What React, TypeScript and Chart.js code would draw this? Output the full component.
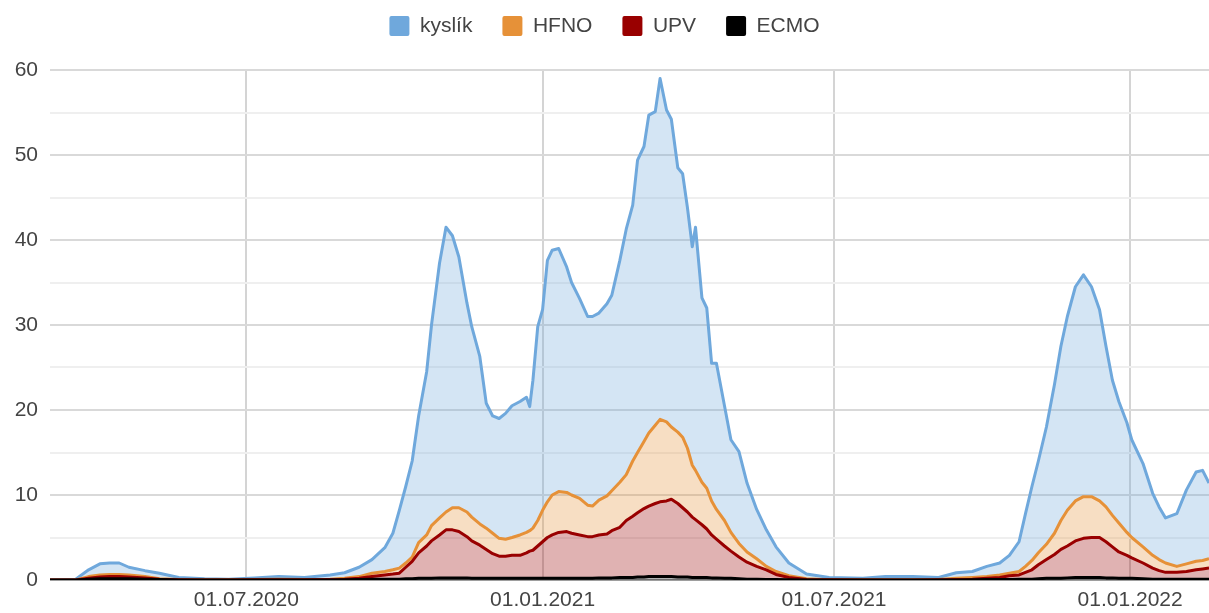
import React, { useEffect, useRef } from "react";
import { Chart, registerables } from "chart.js";

Chart.register(...registerables);

// ---- data ----
const dates = [
  "2020-03-01", "2020-03-17", "2020-03-25", "2020-04-01", "2020-04-07", "2020-04-13", "2020-04-19", "2020-04-29",
  "2020-05-08", "2020-05-20", "2020-06-05", "2020-06-20", "2020-07-06", "2020-07-21", "2020-08-06", "2020-08-22",
  "2020-08-31", "2020-09-09", "2020-09-17", "2020-09-25", "2020-09-30", "2020-10-04", "2020-10-08", "2020-10-12",
  "2020-10-16", "2020-10-21", "2020-10-24", "2020-10-29", "2020-11-02", "2020-11-06", "2020-11-10", "2020-11-15",
  "2020-11-18", "2020-11-23", "2020-11-27", "2020-12-01", "2020-12-05", "2020-12-09", "2020-12-13", "2020-12-18",
  "2020-12-22", "2020-12-24", "2020-12-26", "2020-12-29", "2021-01-01", "2021-01-04", "2021-01-07", "2021-01-11",
  "2021-01-16", "2021-01-19", "2021-01-24", "2021-01-29", "2021-02-01", "2021-02-05", "2021-02-10", "2021-02-13",
  "2021-02-18", "2021-02-22", "2021-02-26", "2021-03-01", "2021-03-05", "2021-03-08", "2021-03-12", "2021-03-15",
  "2021-03-19", "2021-03-22", "2021-03-26", "2021-03-29", "2021-04-01", "2021-04-04", "2021-04-06", "2021-04-10",
  "2021-04-13", "2021-04-16", "2021-04-19", "2021-04-24", "2021-04-28", "2021-05-03", "2021-05-08", "2021-05-14",
  "2021-05-20", "2021-05-26", "2021-06-03", "2021-06-14", "2021-06-28", "2021-07-19", "2021-08-02", "2021-08-19",
  "2021-09-04", "2021-09-15", "2021-09-25", "2021-10-04", "2021-10-12", "2021-10-18", "2021-10-24", "2021-10-28",
  "2021-11-01", "2021-11-05", "2021-11-10", "2021-11-15", "2021-11-19", "2021-11-23", "2021-11-28", "2021-12-03",
  "2021-12-08", "2021-12-13", "2021-12-17", "2021-12-21", "2021-12-25", "2021-12-30", "2022-01-02", "2022-01-09",
  "2022-01-15", "2022-01-19", "2022-01-23", "2022-01-30", "2022-02-05", "2022-02-11", "2022-02-15", "2022-02-19",
];

const kyslik = [
  0, 0.1, 1.2, 1.9, 2.0, 2.0, 1.5, 1.1,
  0.8, 0.3, 0.15, 0.1, 0.25, 0.4, 0.3, 0.6,
  0.85, 1.5, 2.4, 3.8, 5.5, 8.2, 11, 14,
  19.3, 24.5, 30, 37.3, 41.5, 40.5, 38, 32.6,
  29.8, 26.3, 20.8, 19.3, 19.0, 19.6, 20.5, 21,
  21.5, 20.4, 23.5, 29.8, 31.8, 37.6, 38.8, 39,
  36.8, 35, 33.1, 31, 31, 31.4, 32.5, 33.5,
  37.6, 41.3, 44.1, 49.4, 51, 54.7, 55.1, 59,
  55.3, 54.2, 48.5, 47.8, 43.8, 39.2, 41.5, 33.2,
  32, 25.5, 25.5, 20.5, 16.5, 15.1, 11.4, 8.3,
  5.9, 3.9, 2.0, 0.7, 0.3, 0.2, 0.4, 0.4,
  0.3, 0.85, 1.0, 1.6, 2.0, 2.9, 4.5, 7.8,
  11, 14, 18, 23, 27.5, 31, 34.5, 35.9,
  34.5, 31.8, 27.5, 23.5, 21, 18.5, 16.5, 13.7,
  10.2, 8.6, 7.3, 7.8, 10.6, 12.7, 12.9, 11.4,
];

const hfno = [
  0, 0, 0.4, 0.6, 0.65, 0.65, 0.6, 0.4,
  0.15, 0.05, 0.02, 0.02, 0.05, 0.08, 0.05, 0.1,
  0.2, 0.4, 0.8, 1.0, 1.2, 1.4, 2.0, 2.7,
  4.4, 5.3, 6.4, 7.3, 8.0, 8.5, 8.5, 8.0,
  7.4, 6.6, 6.1, 5.5, 4.9, 4.8, 5.0, 5.3,
  5.6, 5.8, 6.1, 7.0, 8.2, 9.2, 10, 10.4,
  10.3, 10, 9.6, 8.8, 8.7, 9.4, 9.9, 10.5,
  11.5, 12.4, 14, 15.0, 16.3, 17.3, 18.2, 18.9,
  18.6, 18.0, 17.4, 16.8, 15.5, 13.5, 12.9, 11.5,
  10.8, 9.3, 8.3, 7.0, 5.6, 4.3, 3.3, 2.5,
  1.6, 1.0, 0.5, 0.15, 0.03, 0.02, 0.03, 0.03,
  0.05, 0.2, 0.3, 0.4, 0.6, 0.8, 1.0, 1.6,
  2.3, 3.2, 4.2, 5.5, 7.0, 8.2, 9.3, 9.8,
  9.8, 9.3, 8.6, 7.6, 6.7, 5.6, 5.0, 3.9,
  2.9, 2.4, 2.0, 1.6, 1.9, 2.2, 2.3, 2.5,
];

const upv = [
  0, 0, 0.2, 0.35, 0.4, 0.4, 0.35, 0.25,
  0.1, 0.03, 0, 0, 0.02, 0.03, 0.02, 0.05,
  0.1, 0.2, 0.4, 0.6, 0.7, 0.8, 1.5, 2.2,
  3.2, 4.0, 4.6, 5.3, 5.9, 5.9, 5.7, 5.1,
  4.6, 4.1, 3.6, 3.1, 2.8, 2.8, 2.9, 2.9,
  3.2, 3.4, 3.5, 4.0, 4.5, 5.0, 5.3, 5.6,
  5.7, 5.5, 5.3, 5.1, 5.1, 5.3, 5.4, 5.8,
  6.2, 7.0, 7.5, 7.9, 8.4, 8.7, 9.0, 9.2,
  9.3, 9.5, 9.0, 8.5, 8.0, 7.4, 7.1, 6.5,
  6.0, 5.3, 4.8, 4.0, 3.4, 2.7, 2.1, 1.6,
  1.2, 0.65, 0.3, 0.05, 0.02, 0, 0.01, 0.01,
  0.02, 0.05, 0.1, 0.2, 0.3, 0.5, 0.6, 0.9,
  1.2, 1.8, 2.4, 3.0, 3.6, 4.0, 4.6, 4.9,
  5.0, 5.0, 4.5, 3.9, 3.3, 2.9, 2.6, 2.0,
  1.4, 1.1, 0.9, 0.9, 1.0, 1.2, 1.3, 1.4,
];

const ecmo = [
  0, 0, 0.1, 0.15, 0.15, 0.15, 0.15, 0.1,
  0.05, 0, 0, 0, 0, 0, 0, 0,
  0.02, 0.05, 0.08, 0.1, 0.1, 0.1, 0.15, 0.15,
  0.2, 0.2, 0.2, 0.25, 0.25, 0.25, 0.25, 0.25,
  0.2, 0.2, 0.2, 0.2, 0.2, 0.2, 0.2, 0.2,
  0.2, 0.2, 0.2, 0.2, 0.2, 0.2, 0.2, 0.2,
  0.2, 0.2, 0.2, 0.2, 0.2, 0.25, 0.25, 0.25,
  0.3, 0.3, 0.3, 0.35, 0.35, 0.4, 0.4, 0.4,
  0.4, 0.4, 0.35, 0.35, 0.35, 0.3, 0.3, 0.3,
  0.3, 0.25, 0.25, 0.2, 0.2, 0.15, 0.1, 0.1,
  0.05, 0.05, 0.02, 0, 0, 0, 0, 0,
  0, 0, 0.02, 0.05, 0.05, 0.05, 0.08, 0.1,
  0.1, 0.15, 0.2, 0.2, 0.2, 0.25, 0.3, 0.3,
  0.3, 0.3, 0.25, 0.25, 0.2, 0.2, 0.2, 0.15,
  0.1, 0.1, 0.1, 0.1, 0.1, 0.1, 0.1, 0.1,
];

const seriesLabels = ["kyslík", "HFNO", "UPV", "ECMO"];
const lineColors = ["#6fa8dc", "#e69138", "#990000", "#000000"];
const fillColors = [
  "rgba(111,168,220,0.3)",
  "rgba(230,145,56,0.3)",
  "rgba(153,0,0,0.3)",
  "rgba(0,0,0,0.3)",
];

const tickDates = ["2020-07-01", "2021-01-01", "2021-07-01", "2022-01-01"];
const tickLabels = ["01.07.2020", "01.01.2021", "01.07.2021", "01.01.2022"];
const startDate = "2020-03-01";
const endDate = "2022-02-19";

const DAY_MS = 86400000;
const dayOf = (d: string) => Math.round((Date.parse(d) - Date.parse(startDate)) / DAY_MS);

const FONT = "'Liberation Sans', Arial, Helvetica, sans-serif";

const legendSpacer = {
  id: "legendSpacer",
  beforeLayout(chart: any) {
    const lg = chart.legend;
    if (lg && !lg._spacerPatched) {
      const orig = lg.fit;
      lg.fit = function () {
        orig.call(this);
        this.height = 84.5;
      };
      lg._spacerPatched = true;
    }
  },
};

export default function App() {
  const canvasRef = useRef<HTMLCanvasElement | null>(null);

  useEffect(() => {
    if (!canvasRef.current) return;
    const series = [kyslik, hfno, upv, ecmo];
    const fills: any[] = ["+1", "+1", "+1", "origin"];
    const orders = [3, 2, 1, 0];
    const datasets = series.map((vals, si) => ({
      label: seriesLabels[si],
      data: dates.map((d, i) => ({ x: dayOf(d), y: vals[i] })),
      borderColor: lineColors[si],
      backgroundColor: fillColors[si],
      borderWidth: 3,
      borderJoinStyle: "round",
      pointRadius: 0,
      pointHoverRadius: 0,
      tension: 0,
      fill: fills[si],
      order: orders[si],
    }));

    const chart = new Chart(canvasRef.current, {
      type: "line",
      data: { datasets },
      options: {
        animation: false,
        responsive: false,
        maintainAspectRatio: false,
        layout: { padding: { top: -14.5, left: 0, right: 0, bottom: 0 } },
        plugins: {
          tooltip: { enabled: false },
          legend: {
            display: true,
            position: "top",
            align: "center",
            labels: {
              boxWidth: 20,
              boxHeight: 20,
              padding: 30,
              useBorderRadius: true,
              borderRadius: 2,
              color: "#444",
              font: { family: FONT, size: 21 },
              generateLabels: (ch: any) =>
                ch.data.datasets.map((ds: any, i: number) => ({
                  text: ds.label,
                  fillStyle: lineColors[i],
                  strokeStyle: lineColors[i],
                  lineWidth: 0,
                  hidden: false,
                  datasetIndex: i,
                  fontColor: "#444",
                  borderRadius: 2,
                })),
            },
          },
        },
        scales: {
          x: {
            type: "linear",
            min: dayOf(startDate),
            max: dayOf(endDate),
            afterBuildTicks: (s: any) => {
              s.ticks = tickDates.map((d) => ({ value: dayOf(d) }));
            },
            afterFit: (s: any) => {
              s.height = 33;
            },
            ticks: {
              autoSkip: false,
              maxRotation: 0,
              padding: 8,
              color: "#444",
              font: { family: FONT, size: 21 },
              callback: (value: any) => {
                const i = tickDates.findIndex((d) => dayOf(d) === value);
                return i >= 0 ? tickLabels[i] : "";
              },
            },
            grid: { color: "#d4d4d4", lineWidth: 2, drawTicks: false },
            border: { display: false },
          },
          y: {
            min: 0,
            max: 60,
            afterFit: (s: any) => {
              s.width = 50;
            },
            ticks: {
              stepSize: 5,
              padding: 12,
              color: "#444",
              font: { family: FONT, size: 21 },
              callback: (value: any) => (Number(value) % 10 === 0 ? String(value) : ""),
            },
            grid: {
              drawTicks: false,
              lineWidth: 2,
              color: (ctx: any) => {
                const v = ctx.tick ? ctx.tick.value : 1;
                if (v === 0) return "#9e9e9e";
                return v % 10 === 0 ? "#d9d9d9" : "#efefef";
              },
            },
            border: { display: false },
          },
        },
      },
      plugins: [legendSpacer],
    } as any);

    return () => chart.destroy();
  }, []);

  return (
    <div style={{ position: "fixed", left: 0, top: 0, width: 1209, height: 613, background: "#fff" }}>
      <canvas ref={canvasRef} width={1209} height={613} style={{ display: "block" }} />
    </div>
  );
}
